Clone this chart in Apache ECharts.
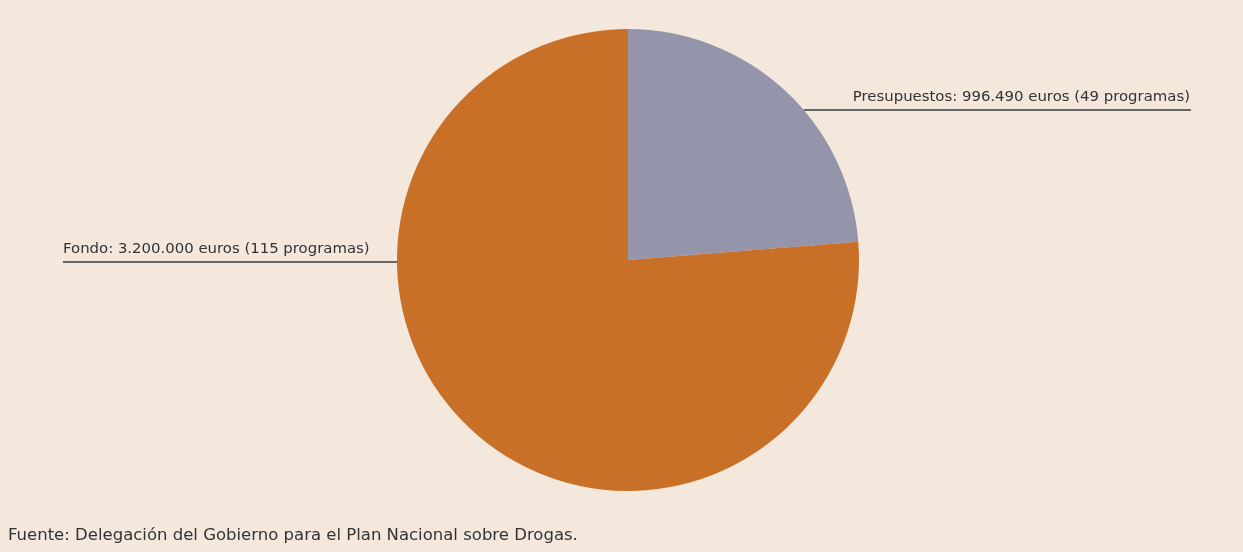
<!DOCTYPE html>
<html>
<head>
<meta charset="utf-8">
<script src="https://cdn.jsdelivr.net/npm/echarts@6/dist/echarts.min.js"></script>
<style>
  html, body { margin: 0; padding: 0; background: #F4E8DD; }
  #chart { width: 1243px; height: 552px; }
</style>
</head>
<body>
<div id="chart"></div>
<script>
// Financiación de programas: presupuestos frente a fondo
const categories = ['Presupuestos', 'Fondo'];
const amounts = [996490, 3200000];
const programmes = [49, 115];
const colors = ['#9494AB', '#C87027'];
const sourceNote = 'Fuente: Delegación del Gobierno para el Plan Nacional sobre Drogas.';

// Spanish number formatting with dots as thousands separators
function fmt(n) {
  return String(n).replace(/\B(?=(\d{3})+(?!\d))/g, '.');
}

const chart = echarts.init(document.getElementById('chart'));

// Pie geometry (pixels)
const CX = 628, CY = 260, R = 231;
// Horizontal callout lines: y of the line and the outer end of the line
const callouts = [
  { lineY: 110, endX: 1191, side: 1 },
  { lineY: 262, endX: 63, side: -1 }
];

const FONT = '"DejaVu Sans", sans-serif';

chart.setOption({
  backgroundColor: '#F4E8DD',
  animation: false,
  graphic: [{
    type: 'text',
    left: 8,
    top: 527,
    style: { text: sourceNote, fill: '#333', font: '16.5px ' + FONT }
  }],
  series: [{
    type: 'pie',
    center: [CX, CY],
    radius: R,
    startAngle: 90,
    clockwise: true,
    data: categories.map((c, i) => ({
      name: c,
      value: amounts[i],
      itemStyle: { color: colors[i] }
    })),
    label: {
      show: true,
      color: '#333',
      fontFamily: FONT,
      fontSize: 14.9,
      formatter: p => `${p.name}: ${fmt(p.value)} euros (${programmes[p.dataIndex]} programas)`
    },
    labelLine: {
      show: true,
      lineStyle: { color: '#3a3a3a', width: 1.5 }
    },
    labelLayout: function (params) {
      const c = callouts[params.dataIndex];
      const dy = c.lineY - CY;
      const edgeX = CX + c.side * Math.sqrt(R * R - dy * dy);
      return {
        x: c.side > 0 ? c.endX - 1 : c.endX,
        y: c.lineY - 13,
        align: c.side > 0 ? 'right' : 'left',
        verticalAlign: 'middle',
        labelLinePoints: [[edgeX, c.lineY], [edgeX, c.lineY], [c.endX, c.lineY]]
      };
    }
  }]
});
</script>
</body>
</html>
